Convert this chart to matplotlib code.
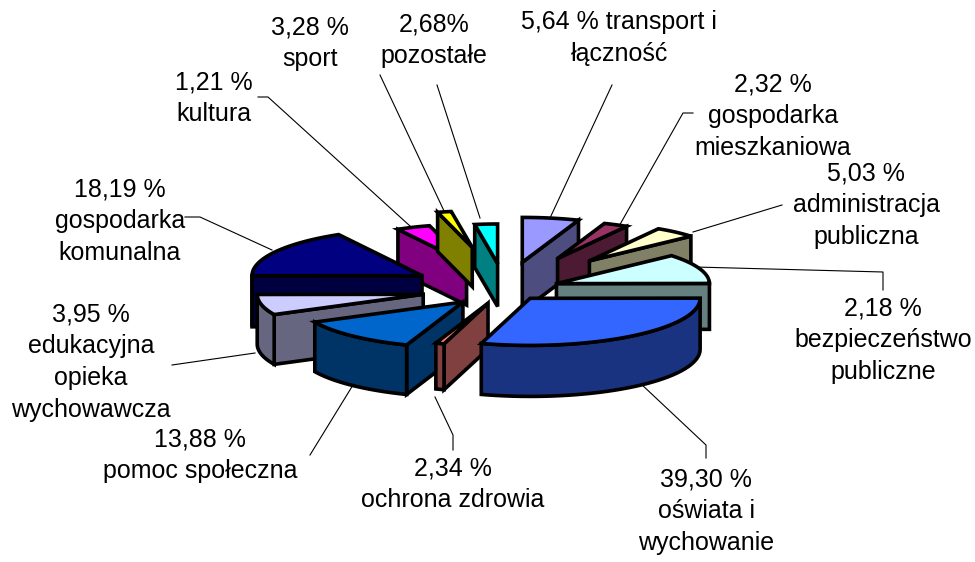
import numpy as np
import matplotlib
matplotlib.use('Agg')
import matplotlib.pyplot as plt

plt.rcParams['font.family'] = ['Liberation Sans', 'DejaVu Sans']

# labels printed on the chart
categories = ['transport i łączność', 'gospodarka mieszkaniowa', 'administracja publiczna',
              'bezpieczeństwo publiczne', 'oświata i wychowanie', 'ochrona zdrowia',
              'pomoc społeczna', 'edukacyjna opieka wychowawcza', 'gospodarka komunalna',
              'kultura', 'sport', 'pozostałe']
printed_values = ['5,64 %', '2,32 %', '5,03 %', '2,18 %', '39,30 %', '2,34 %',
                  '13,88 %', '3,95 %', '18,19 %', '1,21 %', '3,28 %', '2,68%']

# the wedges in the picture are not the printed numbers, these are read off the drawing
drawn_shares = [5.64, 2.9, 5.0, 11.4, 29.7, 0.9, 12.2, 7.2, 16.9, 3.9, 1.7, 2.56]

top_colors = ['#9999FF', '#993366', '#FFFFCC', '#CCFFFF', '#3366FF', '#FF8080',
              '#0066CC', '#CCCCFF', '#000080', '#FF00FF', '#FFFF00', '#00FFFF']
side_colors = ['#4D4D80', '#4D1A33', '#808066', '#668080', '#1A3380', '#804040',
               '#003366', '#666680', '#000040', '#800080', '#808000', '#008080']

# how far each wedge is pulled out and its radius on screen (perspective)
explode = [98, 122, 132, 55, 42, 54, 63, 84, 96, 101, 154, 92]
radius = [162, 135, 135, 153, 170, 153, 165, 166, 170, 140, 131, 143]
draw_order = [9, 10, 11, 0, 1, 2, 8, 7, 6, 3, 5, 4]

cx, cy = 505, 289
tilt = 0.277
depth_ratio = 0.3
edge_lw = 2.6

fig = plt.figure(figsize=(9.75, 5.62), dpi=100)
ax = fig.add_axes([0, 0, 1, 1])
ax.set_xlim(0, 975)
ax.set_ylim(562, 0)
ax.axis('off')

edges = np.concatenate([[0], np.cumsum(drawn_shares)]) * 3.6


def pt(i, ang, r):
    mid = np.radians((edges[i] + edges[i + 1]) / 2)
    a = np.radians(ang)
    x = cx + explode[i] * np.sin(mid) + r * np.sin(a)
    y = cy - (explode[i] * np.cos(mid) + r * np.cos(a)) * tilt
    return x, y


def face(xs, ys, color, z):
    ax.fill(xs, ys, facecolor=color, edgecolor='black', linewidth=edge_lw,
            joinstyle='miter', zorder=z)


def wall(i, ang, z):
    d = radius[i] * depth_ratio
    x0, y0 = pt(i, ang, 0)
    x1, y1 = pt(i, ang, radius[i])
    face([x0, x1, x1, x0], [y0, y1, y1 + d, y0 + d], side_colors[i], z)


for z, i in enumerate(draw_order):
    a1, a2 = edges[i], edges[i + 1]
    d = radius[i] * depth_ratio
    # radial walls, only the ones turned to the viewer
    if 180 < a1 < 360:
        wall(i, a1, z + 2)
    if 0 < a2 < 180:
        wall(i, a2, z + 2)
    # outer rim
    lo, hi = max(a1, 90), min(a2, 270)
    if lo < hi:
        t = np.linspace(lo, hi, 40)
        x, y = pt(i, t, radius[i])
        face(np.r_[x, x[::-1]], np.r_[y, y[::-1] + d], side_colors[i], z + 2)
    # top
    t = np.linspace(a1, a2, 40)
    x, y = pt(i, t, radius[i])
    x0, y0 = pt(i, a1, 0)
    face(np.r_[x0, x], np.r_[y0, y], top_colors[i], z + 2)

# leader lines
leaders = [
    ([612, 550], [85, 218]),
    ([693, 683, 618], [113, 113, 228]),
    ([782, 693], [205, 232]),
    ([883, 883, 695], [290, 272, 267]),
    ([706, 706, 640], [458, 445, 383]),
    ([453, 453, 435], [450, 435, 397]),
    ([310, 353], [455, 385]),
    ([172, 255], [365, 353]),
    ([185, 200, 272], [217, 217, 250]),
    ([258, 268, 410], [97, 97, 226]),
    ([380, 445], [75, 213]),
    ([437, 480], [85, 218]),
]
for xs, ys in leaders:
    ax.plot(xs, ys, color='black', linewidth=0.8, zorder=1)

labels = [
    (619, 38, '5,64 % transport i\nłączność'),
    (773, 116, '2,32 %\ngospodarka\nmieszkaniowa'),
    (866, 205, '5,03 %\nadministracja\npubliczna'),
    (883, 340, '2,18 %\nbezpieczeństwo\npubliczne'),
    (706, 511, '39,30 %\noświata i\nwychowanie'),
    (453, 484, '2,34 %\nochrona zdrowia'),
    (200, 455, '13,88 %\npomoc społeczna'),
    (91, 362, '3,95 %\nedukacyjna\nopieka\nwychowawcza'),
    (120, 221, '18,19 %\ngospodarka\nkomunalna'),
    (214, 98, '1,21 %\nkultura'),
    (310, 43, '3,28 %\nsport'),
    (434, 40, '2,68%\npozostałe'),
]
for x, y, s in labels:
    ax.text(x, y, s, ha='center', va='center', ma='center', fontsize=18,
            linespacing=1.41, color='black', zorder=50)

fig.savefig('out.png', dpi=100)
